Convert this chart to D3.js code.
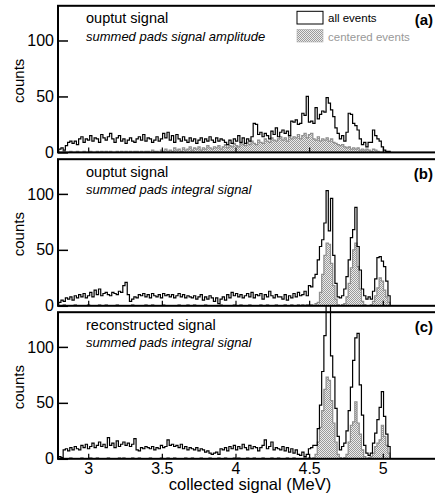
<!DOCTYPE html>
<html><head><meta charset="utf-8">
<script src="https://cdn.jsdelivr.net/npm/d3@7"></script>
<style>body{margin:0;background:#fff} svg{display:block} text{font-family:"Liberation Sans",Arial,Helvetica,sans-serif}</style>
</head><body><svg id="c" width="435" height="499"></svg>
<script>
// histogram binning (MeV)
const binStart = 2.8, binWidth = 0.015;

// panel (a): output signal, summed pads signal amplitude
const allA = [
 3,4,2,6,9,10,8,10,7,12, 14,9,12,11,15,10,13,12,9,16, 13,11,14,17,12,9,13,15,10,12,
 8,11,13,10,9,12,14,11,16,10, 13,12,9,11,14,10,12,17,13,18, 11,15,9,16,12,10,14,11,9,13,
 10,12,8,11,13,9,12,10,14,11, 9,13,10,12,11,9,7,11,8,12, 10,15,9,13,8,12,10,14,26,25,
 16,18,14,17,15,12,19,16,22,14, 18,20,17,19,15,28,27,29,25,26, 35,33,50,27,28,26,40,30,34,37,
 36,49,44,38,32,22,17,12,15,10, 18,35,34,26,24,20,12,7,9,5, 9,9,20,15,12,10,5,2,1,1];
const cenA = [
 0,0,1,0,0,1,0,0,1,0, 0,1,0,0,1,0,0,1,0,1, 0,1,0,1,0,0,1,0,1,0,
 1,0,1,0,1,1,0,1,0,1, 1,0,2,1,1,0,2,1,3,1, 2,1,4,2,3,1,4,2,3,5,
 2,4,3,5,2,4,3,6,4,3, 5,4,6,3,5,7,4,6,5,8, 6,5,8,7,6,9,7,10,8,7,
 11,9,8,12,10,9,13,11,10,12, 14,11,13,10,15,12,14,13,16,12, 15,17,13,16,17,12,11,14,10,12,
 11,13,10,12,9,8,7,6,7,5, 4,5,3,4,3,4,2,3,2,3, 2,1,3,2,1,0,0,0,0,0];

// panel (b): output signal, summed pads integral signal
const allB = [
 3,5,4,7,6,8,5,9,7,10, 8,11,7,9,12,8,14,10,15,9, 11,12,10,9,12,11,10,13,12,18,
 21,10,4,6,8,7,10,9,11,8, 10,7,11,9,8,10,7,11,9,10, 8,10,7,9,11,8,10,7,9,8,
 7,9,6,8,10,5,8,6,9,7, 4,7,2,6,8,5,10,7,12,9, 11,8,10,7,9,11,8,12,7,10,
 9,11,6,10,8,13,9,7,10,8, 8,6,10,5,9,7,11,8,12,9, 10,13,9,18,17,25,28,41,53,59,
 74,103,67,96,45,20,8,7,9,15, 26,41,61,68,88,53,32,15,9,6, 8,6,13,24,43,44,40,35,22,9];
const cenB = [
 0,0,1,0,0,0,0,1,0,0, 0,0,0,1,0,0,0,0,1,0, 0,1,0,0,0,0,1,0,0,0,
 0,0,0,1,0,0,0,0,0,1, 0,0,1,0,0,0,0,1,0,0, 0,0,0,0,1,0,0,0,1,0,
 0,1,0,0,0,0,1,0,0,0, 0,0,0,1,0,0,0,0,0,1, 0,0,1,0,0,0,1,0,0,0,
 0,1,0,0,1,0,0,0,1,0, 0,0,1,0,0,1,0,0,1,0, 1,0,1,0,1,0,2,3,12,28,
 45,56,55,38,18,6,1,0,1,2, 8,20,34,50,56,35,15,4,1,0, 0,1,4,9,16,25,22,14,8,3];

// panel (c): reconstructed signal, summed pads integral signal
const allC = [
 2,1,8,9,7,10,8,11,9,8, 12,10,13,9,11,14,10,12,15,11, 13,10,19,12,14,10,16,11,13,15,
 12,14,11,13,18,8,7,10,9,11, 10,9,11,8,10,9,12,10,11,17, 12,13,11,12,10,13,9,11,8,10,
 9,8,10,7,9,8,6,7,5,4, 5,6,4,9,8,10,7,11,9,12, 8,11,9,13,10,8,12,9,11,10,
 7,10,12,17,9,11,15,8,10,9, 8,11,7,10,6,9,5,8,4,3, 6,2,4,9,10,12,12,27,48,78,
 110,142,140,92,73,45,20,8,11,14, 25,43,64,88,108,112,66,39,12,5, 3,5,14,23,35,46,60,38,22,11];
const cenC = [
 0,1,0,0,0,1,0,0,0,0, 1,0,0,0,1,0,0,1,0,0, 0,0,1,0,0,0,0,1,0,1,
 0,0,0,1,0,0,1,0,0,0, 0,1,0,0,0,0,1,0,0,1, 0,0,1,0,0,0,0,1,0,0,
 1,0,0,0,1,0,0,0,1,0, 0,0,1,0,0,1,0,0,0,1, 0,1,0,0,0,1,0,0,1,0,
 0,0,1,0,0,0,1,0,0,1, 0,0,0,1,0,0,1,0,0,0, 0,1,0,1,0,1,4,15,28,43,
 62,73,70,52,32,15,4,1,0,1, 4,15,30,33,51,32,22,8,2,0, 1,2,5,11,14,17,30,20,12,5];

const panelTitles = ["ouptut signal", "ouptut signal", "reconstructed signal"];
const panelSubtitles = ["summed pads signal amplitude", "summed pads integral signal", "summed pads integral signal"];
const panelTags = ["(a)", "(b)", "(c)"];
const xTickValues = [3, 3.5, 4, 4.5, 5];
const xTickLabels = ["3", "3.5", "4", "4.5", "5"];
const yTickValues = [0, 50, 100];
const yTickLabels = ["0", "50", "100"];
const legendLabels = ["all events", "centered events"];
const xTitle = "collected signal (MeV)";
const yTitle = "counts";

const panels = [
  {all: allA, cen: cenA},
  {all: allB, cen: cenB},
  {all: allC, cen: cenC}
];

const svg = d3.select("#c");
const defs = svg.append("defs");
const pat = defs.append("pattern").attr("id", "chk").attr("patternUnits", "userSpaceOnUse")
  .attr("width", 2).attr("height", 2);
pat.append("rect").attr("width", 2).attr("height", 2).attr("fill", "#ebebeb");
pat.append("rect").attr("width", 1).attr("height", 1).attr("fill", "#9a9a9a");
pat.append("rect").attr("x", 1).attr("y", 1).attr("width", 1).attr("height", 1).attr("fill", "#9a9a9a");

const left = 58, right = 442;
const x = d3.scaleLinear().domain([2.795, 5.36]).range([left, left + 2.565 * 147.3]);
const tops = [5.8, 159.2, 312.2];
const ph = 146.6;

panels.forEach((p, k) => {
  const top = tops[k], bottom = top + ph;
  const y = d3.scaleLinear().domain([0, 131]).range([bottom, top]);
  const nb = p.all.length;
  const edges = d3.range(nb + 1).map(i => binStart + i * binWidth);
  const g = svg.append("g");

  const cid = "clip" + k;
  defs.append("clipPath").attr("id", cid).append("rect")
    .attr("x", left).attr("y", top - 6.5).attr("width", right - left).attr("height", ph + 6.5);
  const dg = g.append("g").attr("clip-path", `url(#${cid})`);

  const stepLine = d3.line().x(d => x(d[0])).y(d => y(d[1])).curve(d3.curveStepAfter);
  const linePts = vals => [[edges[0], 0], ...vals.map((v, i) => [edges[i], v]), [edges[nb], 0]];
  const area = d3.area().x(d => x(d[0])).y0(y(0)).y1(d => y(d[1])).curve(d3.curveStepAfter);

  dg.append("path").attr("d", area(linePts(p.cen))).attr("fill", "url(#chk)");
  dg.append("path").attr("d", stepLine(linePts(p.cen))).attr("fill", "none")
    .attr("stroke", "#8f8f8f").attr("stroke-width", 1.2);
  dg.append("path").attr("d", stepLine(linePts(p.all))).attr("fill", "none")
    .attr("stroke", "#000").attr("stroke-width", 1.2).attr("stroke-linejoin", "miter");

  // axes (inward ticks)
  const ya = d3.axisLeft(y).tickValues(yTickValues).tickFormat((d, i) => yTickLabels[i])
    .tickSizeInner(-10).tickSizeOuter(0).tickPadding(4);
  const yg = g.append("g").attr("transform", `translate(${left},0)`).call(ya);
  yg.select(".domain").remove();
  yg.selectAll("line").attr("stroke-width", 1.5);
  yg.selectAll("text").attr("font-size", 16).attr("font-family", '"Liberation Sans",Arial,sans-serif').attr("fill", "#000");

  const xa = d3.axisBottom(x).tickValues(xTickValues).tickFormat((d, i) => k === 2 ? xTickLabels[i] : "")
    .tickSizeInner(-5).tickSizeOuter(0).tickPadding(3.5);
  const xg = g.append("g").attr("transform", `translate(0,${bottom})`).call(xa);
  xg.select(".domain").remove();
  xg.selectAll("line").attr("stroke-width", 1.2);
  xg.selectAll("text").attr("font-size", 16).attr("font-family", '"Liberation Sans",Arial,sans-serif').attr("fill", "#000");

  // frame
  g.append("rect").attr("x", left).attr("y", top).attr("width", right - left).attr("height", ph)
    .attr("fill", "none").attr("stroke", "#000").attr("stroke-width", 2);

  // texts
  g.append("text").attr("x", 86).attr("y", top + 17.5).attr("font-size", 14.5).text(panelTitles[k]);
  g.append("text").attr("x", 86).attr("y", top + 35).attr("font-size", 13).attr("font-style", "italic")
    .text(panelSubtitles[k]);
  g.append("text").attr("x", 433).attr("y", top + 19.5).attr("font-size", 15).attr("font-weight", "bold")
    .attr("text-anchor", "end").text(panelTags[k]);
  g.append("text").attr("transform", `translate(24,${top + 75}) rotate(-90)`).attr("text-anchor", "middle")
    .attr("font-size", 15).text(yTitle);
});

// legend
const lg = svg.append("g");
lg.append("rect").attr("x", 297).attr("y", 11.3).attr("width", 26).attr("height", 12.7)
  .attr("fill", "#fff").attr("stroke", "#000").attr("stroke-width", 1);
lg.append("text").attr("x", 328).attr("y", 21.5).attr("font-size", 11.5).text(legendLabels[0]);
lg.append("rect").attr("x", 297).attr("y", 29.3).attr("width", 26).attr("height", 12.7)
  .attr("fill", "url(#chk)").attr("stroke", "#b0b0b0").attr("stroke-width", 0.6);
lg.append("text").attr("x", 328).attr("y", 40.5).attr("font-size", 11.5).attr("fill", "#999").text(legendLabels[1]);

// x title
svg.append("text").attr("x", 250).attr("y", 490).attr("text-anchor", "middle").attr("font-size", 16.5).text(xTitle);
</script></body></html>
